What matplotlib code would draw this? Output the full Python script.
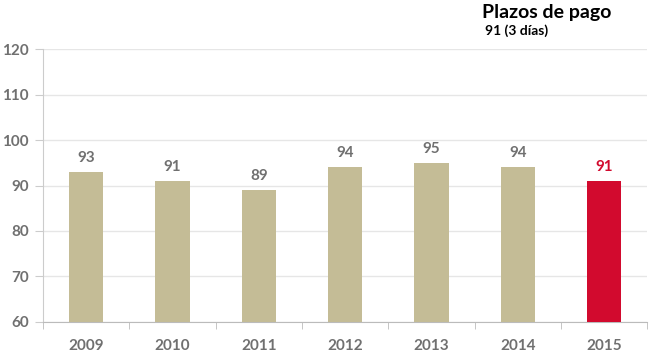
import numpy as np
import matplotlib.pyplot as plt

# data
years = ['2009', '2010', '2011', '2012', '2013', '2014', '2015']
days = [93, 91, 89, 94, 95, 94, 91]
colors = ['#c4bc96'] * 6 + ['#d20a2e']
label_colors = ['#707070'] * 6 + ['#d20a2e']

plt.rcParams['font.family'] = ['Lato', 'DejaVu Sans']

fig = plt.figure(figsize=(6.5, 3.53), dpi=100)
ax = fig.add_axes([0.066, 0.088, 0.93, 0.773])

x = np.arange(len(years))
ax.bar(x, days, width=0.4, color=colors, zorder=3)
for xi, v, c in zip(x, days, label_colors):
    ax.text(xi, v + 1.5, str(v), ha='center', va='bottom', fontsize=11,
            fontweight='bold', color=c)

ax.set_ylim(60, 120)
ax.set_xlim(-0.5, len(years) - 0.5)
ax.set_yticks(np.arange(60, 121, 10))
ax.grid(axis='y', color='#e6e6e6', lw=1, zorder=0)

ax.set_xticks(x)
ax.set_xticklabels(years)
ax.set_xticks(np.arange(-0.5, len(years), 1), minor=True)
ax.tick_params(axis='x', which='major', length=0, pad=12, labelsize=11,
               labelcolor='#707070')
ax.tick_params(axis='x', which='minor', length=5, color='#bbbbbb', direction='out')
ax.tick_params(axis='y', length=6, color='#cccccc', pad=4, labelsize=11,
               labelcolor='#707070')
for lbl in ax.get_xticklabels() + ax.get_yticklabels():
    lbl.set_fontweight('bold')

for s in ['top', 'right']:
    ax.spines[s].set_visible(False)
ax.spines['left'].set_color('#cccccc')
ax.spines['bottom'].set_color('#bbbbbb')

fig.text(0.742, 0.965, 'Plazos de pago', fontsize=14, fontweight='bold',
         color='black', va='center')
fig.text(0.746, 0.912, '91 (3 días)', fontsize=10, fontweight='bold',
         color='black', va='center')

fig.savefig('out.png', dpi=100)
